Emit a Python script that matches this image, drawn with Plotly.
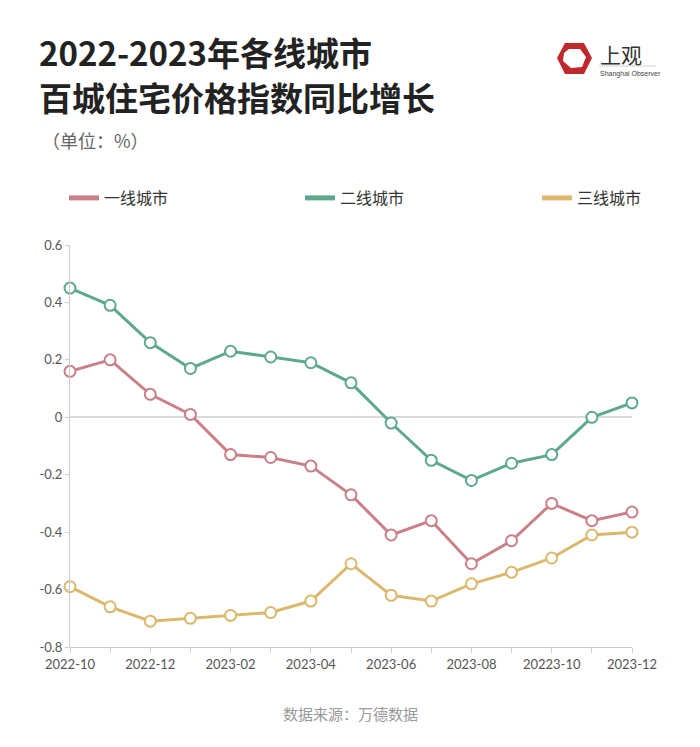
import plotly.graph_objects as go

months = ["2022-10", "2022-11", "2022-12", "2023-01", "2023-02", "2023-03", "2023-04",
          "2023-05", "2023-06", "2023-07", "2023-08", "2023-09", "2023-10", "2023-11", "2023-12"]
tick_labels = ["2022-10", "2022-12", "2023-02", "2023-04", "2023-06", "2023-08", "20223-10", "2023-12"]
series_names = ["一线城市", "二线城市", "三线城市"]
tier1 = [0.16, 0.20, 0.08, 0.01, -0.13, -0.14, -0.17, -0.27, -0.41, -0.36, -0.51, -0.43, -0.30, -0.36, -0.33]
tier2 = [0.45, 0.39, 0.26, 0.17, 0.23, 0.21, 0.19, 0.12, -0.02, -0.15, -0.22, -0.16, -0.13, 0.00, 0.05]
tier3 = [-0.59, -0.66, -0.71, -0.70, -0.69, -0.68, -0.64, -0.51, -0.62, -0.64, -0.58, -0.54, -0.49, -0.41, -0.40]
y_ticks = [0.6, 0.4, 0.2, 0, -0.2, -0.4, -0.6, -0.8]
title_lines = ["2022-2023年各线城市", "百城住宅价格指数同比增长"]

colors = ["#c98088", "#5ea98b", "#dcb86c"]
series = [tier1, tier2, tier3]

W, H = 700, 747
OFF = 8  # page body offset
# plot area in screen pixels
PL, PR, PT, PB = 70, 632, 245, 647


def p2p(sx, sy):
    """screen pixel -> paper coords"""
    return (sx - PL) / (PR - PL), (PB - sy) / (PB - PT)


fig = go.Figure()
legend_ids = ["legend", "legend2", "legend3"]
for name, vals, c, lid in zip(series_names, series, colors, legend_ids):
    fig.add_trace(go.Scatter(
        x=months, y=vals, name=name, mode="lines+markers",
        line=dict(color=c, width=3),
        marker=dict(symbol="circle", size=11, color="white", line=dict(color=c, width=2)),
        cliponaxis=False, showlegend=False,
    ))
    # legend-only entry (line swatch without marker)
    fig.add_trace(go.Scatter(
        x=[None], y=[None], name=name, mode="lines",
        line=dict(color=c, width=5), showlegend=True, legend=lid,
    ))

legend_text_x = [104, 340, 577]
legend_cy = 198
leg_common = dict(orientation="h", xref="container", yref="container",
                  xanchor="left", yanchor="middle",
                  font=dict(size=16, color="#333", family="Noto Sans CJK SC"),
                  itemclick=False, itemdoubleclick=False, bgcolor="rgba(0,0,0,0)")
legends = {}
for lid, tx in zip(legend_ids, legend_text_x):
    legends[lid] = dict(leg_common, x=(tx - OFF - 40) / W, y=1 - (legend_cy - OFF) / H)

fig.update_layout(
    width=W, height=H,
    paper_bgcolor="white", plot_bgcolor="white",
    margin=dict(l=PL - OFF, r=W - (PR - OFF), t=PT - OFF, b=H - (PB - OFF)),
    font=dict(family="Noto Sans CJK SC, Lato, sans-serif", color="#555"),
    showlegend=True,
    **legends,
    xaxis=dict(
        type="category", range=[0, len(months) - 1],
        tickmode="array", tickvals=months,
        ticktext=[tick_labels[i // 2] if i % 2 == 0 else "" for i in range(len(months))],
        showline=True, linecolor="#cccccc", linewidth=1,
        ticks="outside", ticklen=5, tickcolor="#cccccc",
        showgrid=False, zeroline=False,
        tickfont=dict(size=13, color="#555", family="Lato"),
    ),
    yaxis=dict(
        range=[-0.8, 0.6], tickmode="array", tickvals=y_ticks,
        ticktext=[("%g" % v) for v in y_ticks],
        showline=True, linecolor="#cccccc", linewidth=1,
        ticks="outside", ticklen=4, tickcolor="#cccccc",
        showgrid=False, zeroline=True, zerolinecolor="#d9d9d9", zerolinewidth=2,
        tickfont=dict(size=13, color="#555", family="Lato"),
    ),
)

# Title (two lines)
for line, cy in zip(title_lines, [52, 97]):
    tx, ty = p2p(37, cy)
    fig.add_annotation(xref="paper", yref="paper", x=tx, y=ty, xanchor="left", yanchor="middle",
                       showarrow=False, align="left", text=f"<b>{line}</b>",
                       font=dict(size=33, color="#222", family="Noto Sans CJK SC"))
# Subtitle
sx, sy = p2p(40, 140)
fig.add_annotation(xref="paper", yref="paper", x=sx, y=sy, xanchor="left", yanchor="middle",
                   showarrow=False, text="（单位：%）",
                   font=dict(size=18, color="#666", family="Noto Sans CJK SC"))
# Source
qx, qy = p2p(350, 713)
fig.add_annotation(xref="paper", yref="paper", x=qx, y=qy, xanchor="center", yanchor="middle",
                   showarrow=False, text="数据来源：万德数据",
                   font=dict(size=15, color="#999", family="Noto Sans CJK SC"))


def px_path(points):
    segs = []
    for i, (px, py) in enumerate(points):
        xp, yp = p2p(px, py)
        segs.append(("M" if i == 0 else "L") + f" {xp:.5f} {yp:.5f}")
    return " ".join(segs) + " Z"


# Logo (top right)
outer_pts = [(565, 43), (584, 43), (592, 58), (584, 74), (565, 74), (557, 58)]
inner_pts = [(569, 49), (580, 49), (586, 57), (582, 67), (571, 68), (563, 61), (564, 53)]
fig.add_shape(type="path", path=px_path(outer_pts), xref="paper", yref="paper",
              fillcolor="#c0282d", line=dict(width=0))
fig.add_shape(type="path", path=px_path(inner_pts), xref="paper", yref="paper",
              fillcolor="white", line=dict(width=0))
lx0, ly0 = p2p(599, 66)
lx1, _ = p2p(656, 66)
fig.add_shape(type="line", x0=lx0, x1=lx1, y0=ly0, y1=ly0, xref="paper", yref="paper",
              line=dict(color="#bbbbbb", width=0.7))
ax, ay = p2p(598, 54)
fig.add_annotation(xref="paper", yref="paper", x=ax, y=ay,
                   xanchor="left", yanchor="middle", showarrow=False,
                   text="上观", font=dict(size=21, color="#333", family="Noto Sans CJK SC"))
bx, by = p2p(598, 74)
fig.add_annotation(xref="paper", yref="paper", x=bx, y=by,
                   xanchor="left", yanchor="middle", showarrow=False,
                   text="Shanghai Observer", font=dict(size=7, color="#444", family="Liberation Sans"))

fig.write_html("out.html")
